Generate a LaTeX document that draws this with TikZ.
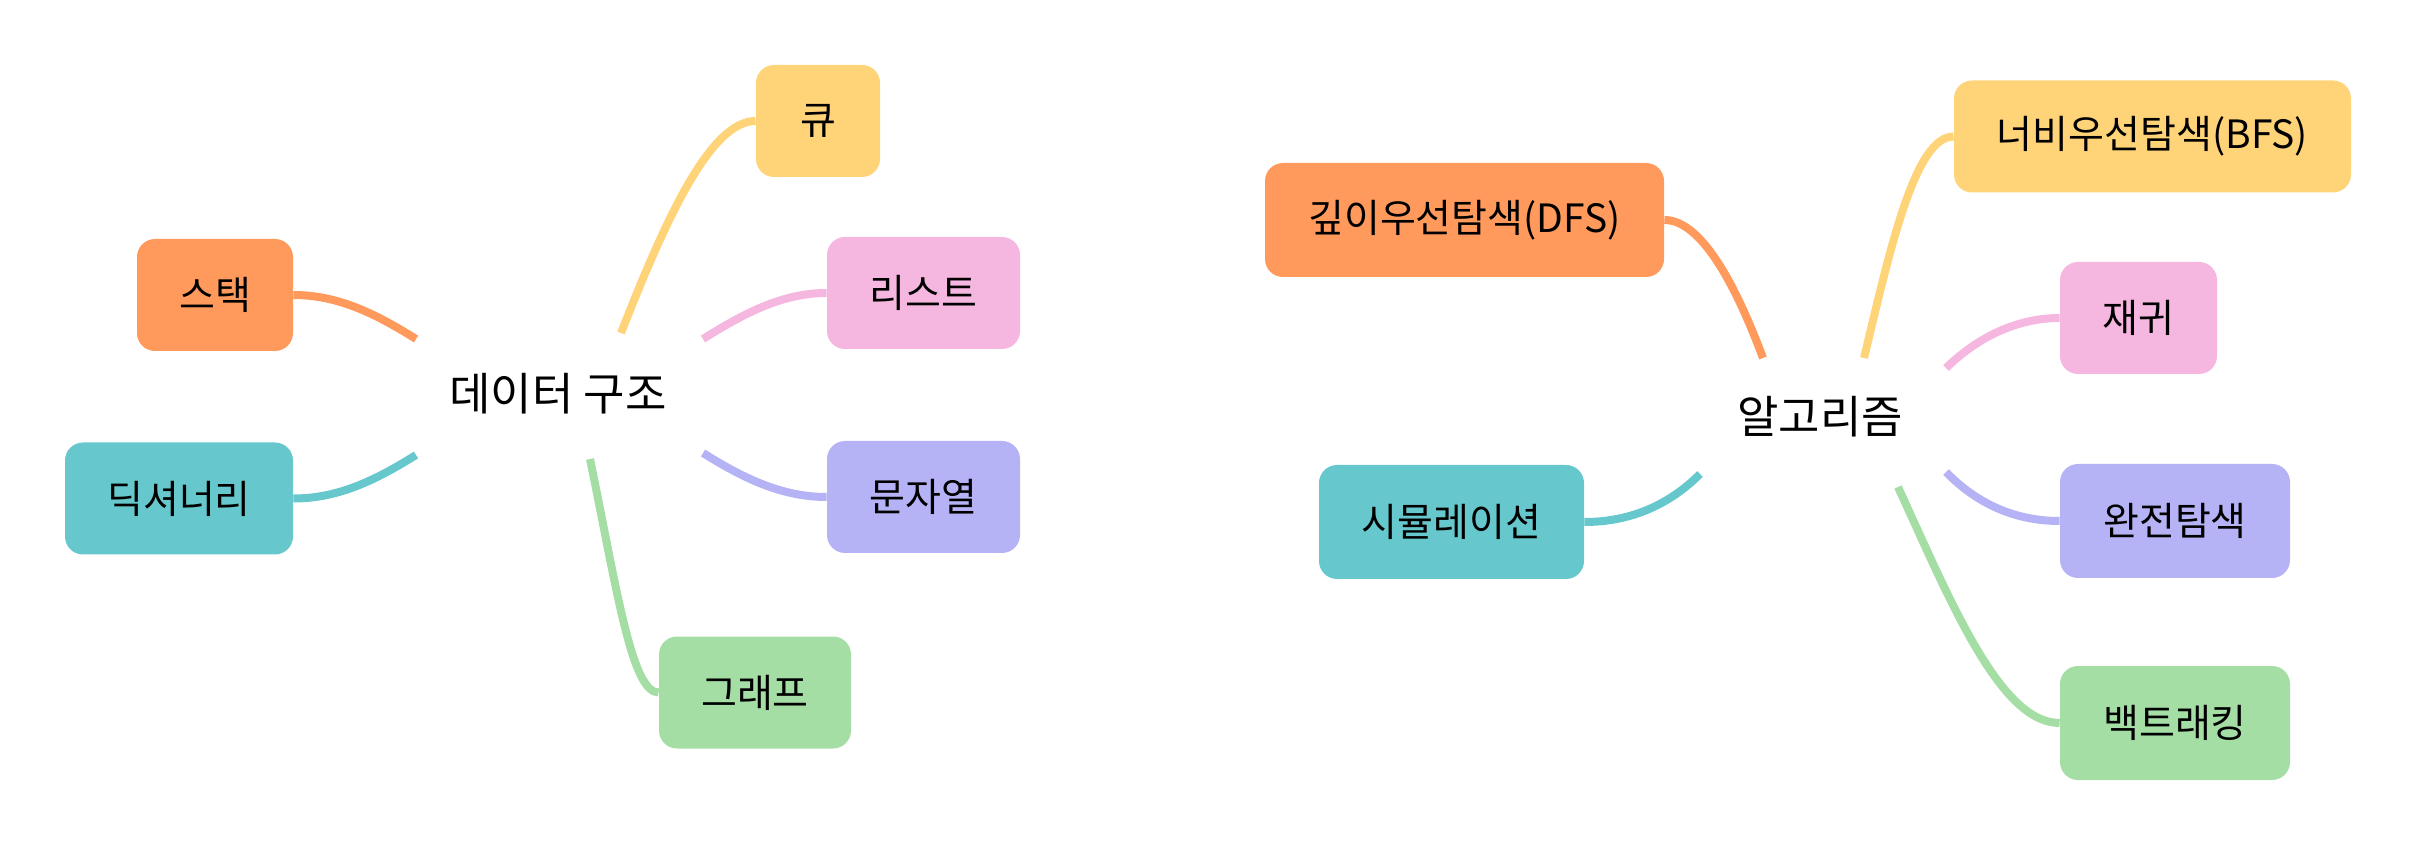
\documentclass[tikz,border=0pt]{standalone}
\usepackage{fontspec}
\setmainfont{Noto Sans CJK KR}
\definecolor{corange}{HTML}{FF9A5C}
\definecolor{cyellow}{HTML}{FFD479}
\definecolor{cpink}{HTML}{F5B6E0}
\definecolor{cpurple}{HTML}{B5B3F5}
\definecolor{cteal}{HTML}{66C8CC}
\definecolor{cgreen}{HTML}{A4DEA4}
\tikzset{
  leaf/.style={rounded corners=9pt, inner sep=0pt, minimum height=56pt, font=\fontsize{19.5}{22}\selectfont, text=black},
  hub/.style={inner sep=0pt, font=\fontsize{22.5}{26}\selectfont, text=black},
  link/.style={line width=4pt},
}
\begin{document}
\begin{tikzpicture}[x=0.5pt,y=-0.5pt]
\useasboundingbox (0,0) rectangle (2416,844);
% hubs
\node[hub] (ds) at (558,394) {데이터 구조};
\node[hub] (al) at (1820,417) {알고리즘};
% connector free ends
\coordinate (sq) at (621,333);
\coordinate (ss) at (416,339);
\coordinate (sl) at (703,339);
\coordinate (sd) at (416,455);
\coordinate (sm) at (703,453);
\coordinate (sg) at (590,459);
\coordinate (adfs) at (1763,358);
\coordinate (abfs) at (1864,358);
\coordinate (are) at (1946,368);
\coordinate (asi) at (1700,474);
\coordinate (awa) at (1946,472);
\coordinate (aba) at (1898,487);
% leaves
\path
  node[leaf, fill=cyellow, minimum width=62pt] (q) at (818,121) {큐}
  node[leaf, fill=corange, minimum width=78pt] (st) at (215,295) {스택}
  node[leaf, fill=cpink, minimum width=96.5pt] (li) at (923.5,293) {리스트}
  node[leaf, fill=cteal, minimum width=114pt] (di) at (179,498.5) {딕셔너리}
  node[leaf, fill=cpurple, minimum width=96.5pt] (mu) at (923.5,497) {문자열}
  node[leaf, fill=cgreen, minimum width=96pt] (gr) at (755,692.5) {그래프}
  node[leaf, fill=corange, minimum width=199.5pt, minimum height=57pt] (dfs) at (1464.5,220) {깊이우선탐색(DFS)}
  node[leaf, fill=cyellow, minimum width=198.5pt] (bfs) at (2152.5,136.5) {너비우선탐색(BFS)}
  node[leaf, fill=cpink, minimum width=78.5pt] (re) at (2138.5,318) {재귀}
  node[leaf, fill=cteal, minimum width=132.5pt, minimum height=57pt] (si) at (1451.5,522) {시뮬레이션}
  node[leaf, fill=cpurple, minimum width=115pt, minimum height=57pt] (wa) at (2175,521) {완전탐색}
  node[leaf, fill=cgreen, minimum width=115pt, minimum height=57pt] (ba) at (2175,723) {백트래킹};
% connectors
\draw[link, cyellow] (sq) .. controls +(45,-115) and +(-45,0) .. (q.west);
\draw[link, corange] (ss) .. controls +(-40,-25) and +(45,0) .. (st.east);
\draw[link, cpink] (sl) .. controls +(40,-25) and +(-45,0) .. (li.west);
\draw[link, cteal] (sd) .. controls +(-40,25) and +(45,0) .. (di.east);
\draw[link, cpurple] (sm) .. controls +(40,25) and +(-45,0) .. (mu.west);
\draw[link, cgreen] (sg) .. controls +(27,131) and +(-27,0) .. (gr.west);
\draw[link, corange] (adfs) .. controls +(-30,-80) and +(35,0) .. (dfs.east);
\draw[link, cyellow] (abfs) .. controls +(26,-108) and +(-39,0) .. (bfs.west);
\draw[link, cpink] (are) .. controls +(34,-33) and +(-40,0) .. (re.west);
\draw[link, cteal] (asi) .. controls +(-35,35) and +(40,0) .. (si.east);
\draw[link, cpurple] (awa) .. controls +(34,35) and +(-40,0) .. (wa.west);
\draw[link, cgreen] (aba) .. controls +(52,113) and +(-60,0) .. (ba.west);
\end{tikzpicture}
\end{document}
